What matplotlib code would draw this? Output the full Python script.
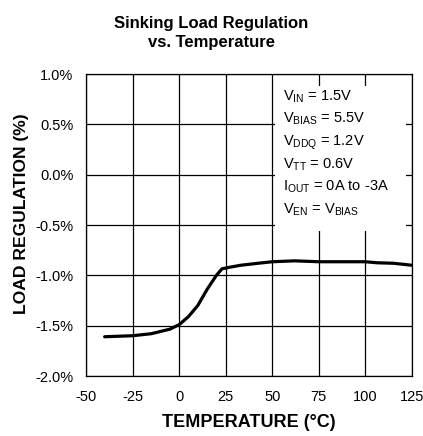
import matplotlib
matplotlib.use("Agg")
import matplotlib.pyplot as plt

plt.rcParams['font.family'] = ['Liberation Sans', 'DejaVu Sans']
plt.rcParams['axes.unicode_minus'] = False

# curve
temperature = [-40, -25, -15, -5, 0, 5, 10, 15, 20, 23, 27, 33, 40, 50, 62, 75, 87, 100, 106, 115, 125]
load_reg = [-1.61, -1.60, -1.58, -1.535, -1.49, -1.41, -1.30, -1.14, -1.00, -0.935, -0.92, -0.90, -0.885, -0.865, -0.856, -0.865, -0.865, -0.865, -0.875, -0.88, -0.90]

xticks = [-50, -25, 0, 25, 50, 75, 100, 125]
yticks = [-2.0, -1.5, -1.0, -0.5, 0.0, 0.5, 1.0]

conditions = [
    r"V$_{\mathregular{IN}}$ = 1.5V",
    r"V$_{\mathregular{BIAS}}$ = 5.5V",
    r"V$_{\mathregular{DDQ}}$ = 1.2V",
    r"V$_{\mathregular{TT}}$ = 0.6V",
    r"I$_{\mathregular{OUT}}$ = 0A to -3A",
    r"V$_{\mathregular{EN}}$ = V$_{\mathregular{BIAS}}$",
]

W, H = 423, 436
fig = plt.figure(figsize=(W / 100, H / 100), dpi=100)
ax = fig.add_axes([86 / W, 1 - 376 / H, (412 - 86) / W, (376 - 74) / H])

ax.plot(temperature, load_reg, color='black', lw=2.3, solid_capstyle='round', zorder=4)

ax.set_xlim(-50, 125)
ax.set_ylim(-2.0, 1.0)
ax.set_xticks(xticks)
ax.set_yticks(yticks)
ax.set_yticklabels(["%.1f%%" % v for v in yticks])
ax.grid(True, color='black', lw=0.9)
ax.tick_params(length=0, labelsize=10.5)
ax.tick_params(axis='x', pad=10)
ax.tick_params(axis='y', pad=9)
for s in ax.spines.values():
    s.set_linewidth(0.9)

# white box behind the conditions
ax.add_patch(plt.Rectangle((51.2, -0.56), 70.8, 1.44, facecolor='white', edgecolor='none', zorder=3))
for i, line in enumerate(conditions):
    ax.text(55.9, 0.742 - i * 0.2246, line, fontsize=10.5, va='baseline', ha='left', zorder=5)

ax.set_xlabel("TEMPERATURE (°C)", fontsize=13, fontweight='bold', labelpad=7)
ax.set_ylabel("LOAD REGULATION (%)", fontsize=12.6, fontweight='bold')
ax.yaxis.set_label_coords(-0.175, 0.536)

fig.text(0.5, 1 - 28 / H, "Sinking Load Regulation", fontsize=12, fontweight='bold',
         ha='center', va='baseline')
fig.text(0.5, 1 - 47 / H, "vs. Temperature", fontsize=12, fontweight='bold',
         ha='center', va='baseline')

fig.savefig("out.png", dpi=100)
